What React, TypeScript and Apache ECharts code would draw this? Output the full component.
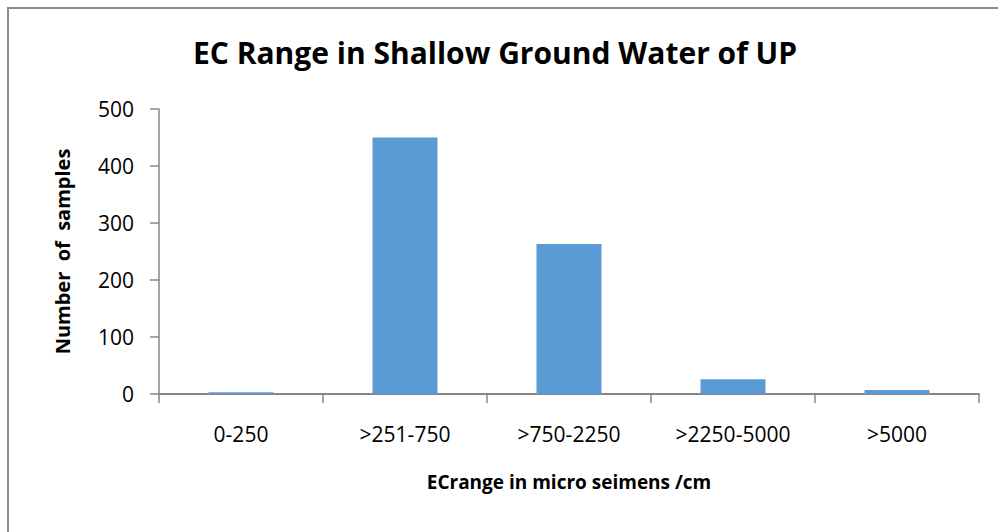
import React, { useEffect, useRef } from "react";
import * as echarts from "echarts";

const categories = ["0-250", ">251-750", ">750-2250", ">2250-5000", ">5000"];
const sampleCounts = [3, 450, 263, 26, 7];
const yTicks = { min: 0, max: 500, interval: 100 };
const titleText = "EC Range in Shallow Ground Water of UP";
const xAxisName = "ECrange in micro seimens /cm";
const yAxisName = "Number  of  samples";

export default function App() {
  const ref = useRef<HTMLDivElement>(null);
  useEffect(() => {
    document.body.style.margin = "0";
    const chart = echarts.init(ref.current!, null, { renderer: "svg" });
    const font = "'Open Sans', sans-serif";
    const axisGray = "#878787";
    chart.setOption({
      animation: false,
      backgroundColor: "#ffffff",
      title: {
        text: titleText,
        left: 490,
        textAlign: "center",
        top: 32,
        textStyle: { fontFamily: font, fontSize: 30, fontWeight: "bold", color: "#000" },
      },
      graphic: [
        {
          type: "rect",
          shape: { x: 8, y: 8, width: 1200, height: 800 },
          style: { fill: "none", stroke: "#8c8c8c", lineWidth: 2 },
          silent: true,
        },
      ],
      grid: { left: 159, right: 19, top: 109, bottom: 138 },
      xAxis: {
        type: "category",
        data: categories,
        name: xAxisName,
        nameLocation: "middle",
        nameGap: 78,
        nameTextStyle: { fontFamily: font, fontSize: 19, fontWeight: "bold", color: "#000" },
        axisLine: { lineStyle: { color: axisGray, width: 2 } },
        axisTick: { show: true, length: 9, lineStyle: { color: axisGray, width: 1.5 } },
        axisLabel: { fontFamily: font, fontSize: 21, color: "#000", margin: 29 },
      },
      yAxis: {
        type: "value",
        min: yTicks.min,
        max: yTicks.max,
        interval: yTicks.interval,
        name: yAxisName,
        nameLocation: "middle",
        nameGap: 87,
        nameTextStyle: { fontFamily: font, fontSize: 20, fontWeight: "bold", color: "#000" },
        axisLine: { show: true, lineStyle: { color: axisGray, width: 1.5 } },
        axisTick: { show: true, length: 9, lineStyle: { color: axisGray, width: 1.5 } },
        axisLabel: { fontFamily: font, fontSize: 21, color: "#000", margin: 25 },
        splitLine: { show: false },
      },
      series: [
        {
          type: "bar",
          data: sampleCounts,
          barWidth: 65,
          itemStyle: { color: "#5B9BD5" },
        },
      ],
    });
    return () => chart.dispose();
  }, []);
  return <div ref={ref} style={{ width: 998, height: 532 }} />;
}
